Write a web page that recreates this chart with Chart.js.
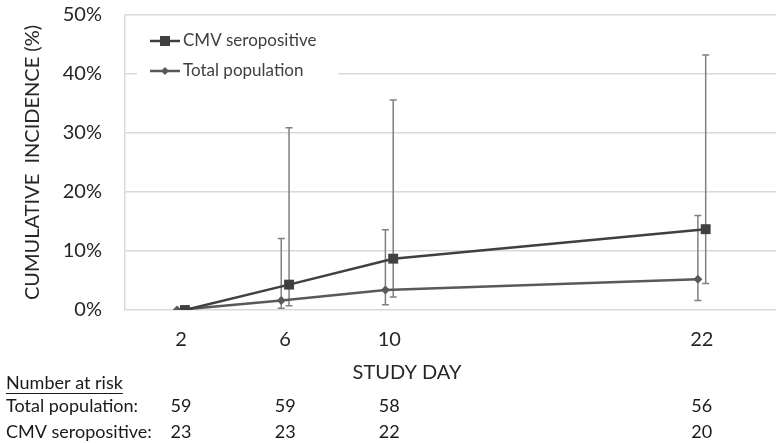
<!DOCTYPE html>
<html>
<head>
<meta charset="utf-8">
<script src="https://cdn.jsdelivr.net/npm/chart.js@4.4.1/dist/chart.umd.min.js"></script>
<style>
    html, body { margin: 0; padding: 0; background: #fff; }
    #wrap { width: 783px; height: 443px; position: relative; }
</style>
</head>
<body>
<div id="wrap"><canvas id="incidenceChart"></canvas></div>
<script>
// Data
const studyDays = [2, 6, 10, 22];
const cmvIncidence = [0, 4.3, 8.7, 13.7];
const cmvLower = [0, 0.7, 2.2, 4.5];
const cmvUpper = [0, 30.9, 35.6, 43.2];
const totalIncidence = [0, 1.6, 3.4, 5.2];
const totalLower = [0, 0.3, 0.9, 1.6];
const totalUpper = [0, 12.1, 13.6, 16.0];
const atRiskTotal = [59, 59, 58, 56];
const atRiskCmv = [23, 23, 22, 20];

// small horizontal dodge so the two series don't sit on top of each other
const dodge = 0.15;
const FONT = 'Lato, "Open Sans", sans-serif';

function toPoints(values, shift) {
    return studyDays.map((d, i) => ({ x: d + shift, y: values[i] }));
}

// Error bars (drawn under the lines/markers)
const errorBarPlugin = {
    id: 'errorBars',
    beforeDatasetsDraw(chart) {
        const ctx = chart.ctx;
        const xs = chart.scales.x;
        const ys = chart.scales.y;
        chart.data.datasets.forEach(ds => {
            ctx.save();
            ctx.strokeStyle = '#808080';
            ctx.lineWidth = 1.5;
            ds.data.forEach((p, i) => {
                if (ds.upper[i] === ds.lower[i]) return;
                const x = xs.getPixelForValue(p.x);
                const yTop = ys.getPixelForValue(ds.upper[i]);
                const yBot = ys.getPixelForValue(ds.lower[i]);
                ctx.beginPath();
                ctx.moveTo(x, yTop);
                ctx.lineTo(x, yBot);
                ctx.moveTo(x - 3.5, yTop);
                ctx.lineTo(x + 3.5, yTop);
                ctx.moveTo(x - 3.5, yBot);
                ctx.lineTo(x + 3.5, yBot);
                ctx.stroke();
            });
            ctx.restore();
        });
    }
};

// Legend inside the plot + number at risk table + x title
const extrasPlugin = {
    id: 'extras',
    afterDraw(chart) {
        const ctx = chart.ctx;
        const xs = chart.scales.x;
        ctx.save();

        // legend box
        ctx.fillStyle = '#fff';
        ctx.fillRect(137, 27, 201, 58);
        const rows = [41, 71];
        chart.data.datasets.forEach((ds, i) => {
            const y = rows[i];
            ctx.strokeStyle = ds.borderColor;
            ctx.lineWidth = 2.5;
            ctx.beginPath();
            ctx.moveTo(150, y);
            ctx.lineTo(180, y);
            ctx.stroke();
            ctx.fillStyle = ds.pointBackgroundColor;
            if (ds.pointStyle === 'rect') {
                ctx.fillRect(160, y - 5, 10, 10);
            } else {
                ctx.beginPath();
                ctx.moveTo(165, y - 4);
                ctx.lineTo(169, y);
                ctx.lineTo(165, y + 4);
                ctx.lineTo(161, y);
                ctx.closePath();
                ctx.fill();
            }
            ctx.fillStyle = '#404040';
            ctx.font = '17px ' + FONT;
            ctx.textAlign = 'left';
            ctx.textBaseline = 'middle';
            ctx.fillText(ds.label, 183, y);
        });

        // x axis title
        ctx.fillStyle = '#262626';
        ctx.font = '20px ' + FONT;
        ctx.textAlign = 'center';
        ctx.textBaseline = 'middle';
        ctx.fillText('STUDY DAY', 407, 373);

        // number at risk table
        ctx.fillStyle = '#1a1a1a';
        ctx.font = '18px ' + FONT;
        ctx.textAlign = 'left';
        ctx.fillText('Number at risk', 6, 383);
        const w = ctx.measureText('Number at risk').width;
        ctx.fillRect(6, 393, w, 1);
        ctx.fillText('Total population:', 6, 406);
        ctx.fillText('CMV seropositive:', 6, 432);
        ctx.textAlign = 'center';
        studyDays.forEach((d, i) => {
            const x = xs.getPixelForValue(d);
            ctx.fillText(String(atRiskTotal[i]), x, 406);
            ctx.fillText(String(atRiskCmv[i]), x, 432);
        });
        ctx.restore();
    }
};

const ctx = document.getElementById('incidenceChart').getContext('2d');
const incidenceChart = new Chart(ctx, {
    type: 'line',
    data: {
        datasets: [{
            label: 'CMV seropositive',
            data: toPoints(cmvIncidence, dodge),
            lower: cmvLower,
            upper: cmvUpper,
            borderColor: '#404040',
            borderWidth: 2.5,
            pointStyle: 'rect',
            pointRadius: 7,
            pointBackgroundColor: '#404040',
            pointBorderWidth: 0
        }, {
            label: 'Total population',
            data: toPoints(totalIncidence, -dodge),
            lower: totalLower,
            upper: totalUpper,
            borderColor: '#595959',
            borderWidth: 2.5,
            pointStyle: 'rectRot',
            pointRadius: 4.5,
            pointBackgroundColor: '#595959',
            pointBorderWidth: 0
        }]
    },
    options: {
        responsive: true,
        maintainAspectRatio: false,
        animation: false,
        layout: {
            padding: { top: 0, right: 6, bottom: 0, left: 0 }
        },
        plugins: {
            legend: { display: false },
            tooltip: { enabled: false }
        },
        scales: {
            x: {
                type: 'linear',
                min: -0.15,
                max: 24.85,
                afterBuildTicks: scale => {
                    scale.ticks = studyDays.map(v => ({ value: v }));
                },
                afterFit: scale => { scale.height = 133; },
                ticks: {
                    font: { family: FONT, size: 20 },
                    color: '#262626',
                    padding: 18,
                    autoSkip: false,
                    maxRotation: 0
                },
                grid: { display: false, drawTicks: false },
                border: { display: false }
            },
            y: {
                min: 0,
                max: 50,
                afterFit: scale => { scale.width = 125; },
                ticks: {
                    stepSize: 10,
                    callback: v => v + '%',
                    font: { family: FONT, size: 20 },
                    color: '#262626',
                    padding: 3
                },
                // invisible tick marks push the labels away from the plot
                grid: {
                    color: '#d9d9d9',
                    lineWidth: 1.5,
                    drawTicks: true,
                    tickLength: 20,
                    tickColor: 'rgba(0,0,0,0)'
                },
                border: { display: true, color: '#d9d9d9', width: 1.5 },
                title: {
                    display: true,
                    text: 'CUMULATIVE  INCIDENCE (%)',
                    font: { family: FONT, size: 20 },
                    color: '#262626',
                    padding: { top: 21, bottom: 0 }
                }
            }
        }
    },
    plugins: [errorBarPlugin, extrasPlugin]
});
</script>
</body>
</html>
